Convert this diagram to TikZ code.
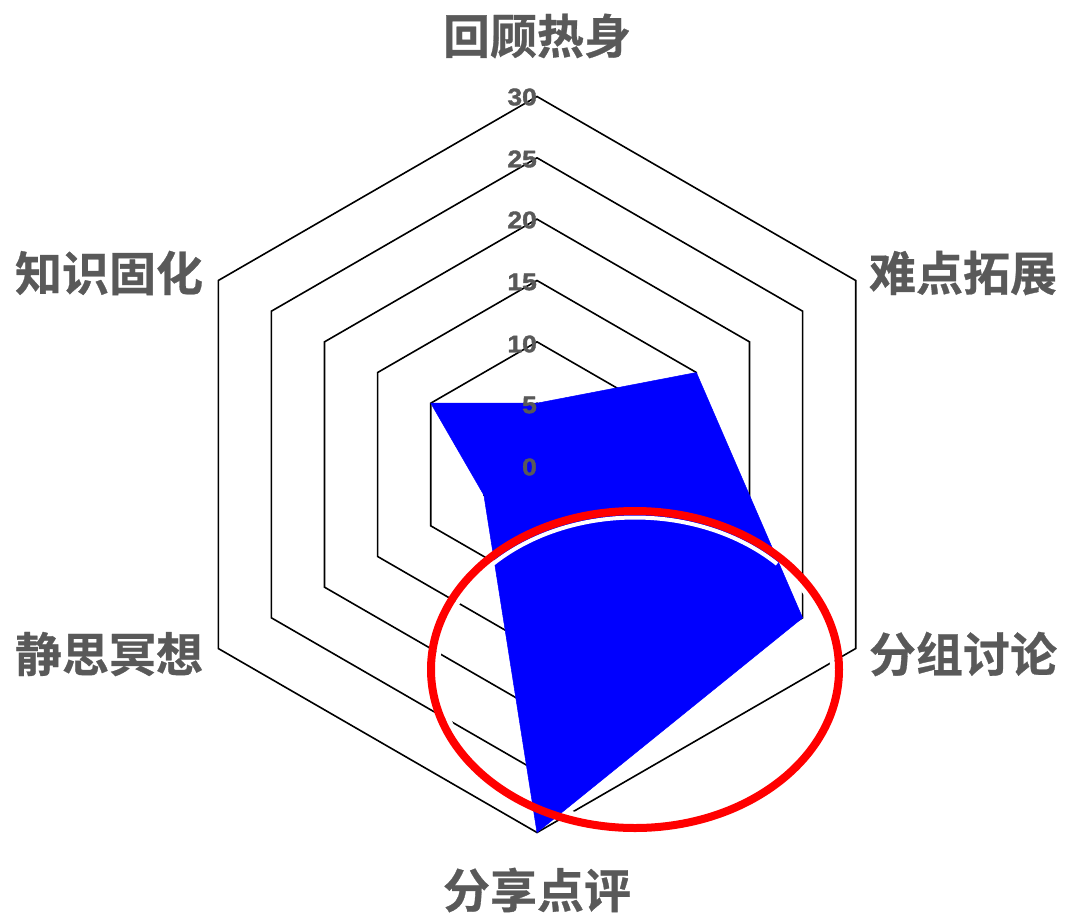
\documentclass[tikz,border=0pt]{standalone}
\usepackage{fontspec}
\setmainfont{Liberation Sans}
\newfontfamily\cjk{Noto Sans CJK SC}[BoldFont=* Bold, BoldFeatures={FakeBold=0.6}]
\newfontfamily\tickfont{Liberation Sans Bold}[FakeBold=1.6]
\definecolor{labgray}{HTML}{595959}
\definecolor{pureblue}{RGB}{0,0,255}
\definecolor{purered}{RGB}{255,0,0}
\begin{document}
\begin{tikzpicture}[x=1pt,y=-1pt,
  ring/.style={draw=black,line width=1.6pt,line join=miter},
  datafill/.style={fill=pureblue,draw=pureblue,line width=0.5pt,line join=round},
  axlabel/.style={text=labgray,font=\cjk\bfseries\fontsize{47}{50}\selectfont,inner sep=0pt},
  ticklabel/.style={text=labgray,font=\tickfont\fontsize{24}{26}\selectfont,inner sep=0pt,anchor=east},
  halo/.style={draw=white,line width=5pt},
  highlight/.style={draw=purered,line width=8pt}]
\useasboundingbox (0,0) rectangle (1065,916);
\def\cx{537}\def\cy{464.5}\def\u{12.267}
% rings
\foreach \k in {1,...,6}{
  \pgfmathsetmacro\r{\k*5*\u}
  \draw[ring] ({\cx},{\cy-\r}) -- ({\cx+0.8660*\r},{\cy-0.5*\r}) -- ({\cx+0.8660*\r},{\cy+0.5*\r})
    -- ({\cx},{\cy+\r}) -- ({\cx-0.8660*\r},{\cy+0.5*\r}) -- ({\cx-0.8660*\r},{\cy-0.5*\r}) -- cycle;
}
% inner halo of the highlight ellipse
\draw[halo] (635,669.5) ellipse [x radius=197.5, y radius=152];
% data polygon
\coordinate (v1) at ({\cx},{\cy-5*\u});
\coordinate (v2) at ({\cx+0.8660*15*\u},{\cy-0.5*15*\u});
\coordinate (v3) at ({\cx+0.8660*25*\u},{\cy+0.5*25*\u});
\coordinate (v4) at ({\cx},{\cy+30*\u});
\coordinate (v5) at ({\cx-0.8660*5*\u},{\cy+0.5*5*\u});
\coordinate (v6) at ({\cx-0.8660*10*\u},{\cy-0.5*10*\u});
\filldraw[datafill] (v1) -- (v2) -- (v3) -- (v4) -- (v5) -- (v6) -- cycle;
% white glow at top of ellipse
\draw[draw=white,line width=4pt] plot[domain=44:137,samples=60] ({635+197.5*cos(\x)},{669.5-152*sin(\x)});
% red ellipse
\draw[highlight] (635,669.5) ellipse [x radius=204, y radius=158.5];
% tick labels
\foreach \v/\yy in {30/97,25/159,20/220,15/282,10/344,5/405,0/467}{
  \node[ticklabel] (t\v) at (537,\yy) {\scalebox{1.1}[1]{\v}};
}
% axis labels
\node[axlabel] (l1) at (537,36) {回顾热身};
\node[axlabel] (l2) at (963,273) {难点拓展};
\node[axlabel] (l3) at (963,654) {分组讨论};
\node[axlabel] (l4) at (537,890) {分享点评};
\node[axlabel] (l5) at (109,654) {静思冥想};
\node[axlabel] (l6) at (109,273) {知识固化};
\end{tikzpicture}
\end{document}
